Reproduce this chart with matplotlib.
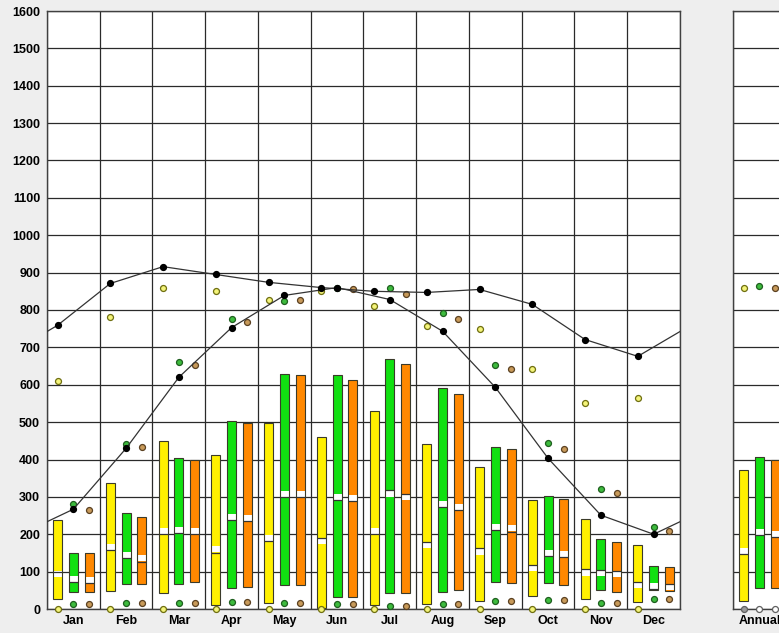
import matplotlib
matplotlib.use('Agg')
import matplotlib.pyplot as plt
import numpy as np

plt.rcParams['font.family'] = ['Liberation Sans', 'DejaVu Sans']
plt.rcParams['font.weight'] = 'bold'

# ---------------- data ----------------
months = ['Jan', 'Feb', 'Mar', 'Apr', 'May', 'Jun', 'Jul', 'Aug', 'Sep', 'Oct', 'Nov', 'Dec']
yticks = list(range(0, 1700, 100))

# upper and lower black curves
upper_line = [759, 871, 916, 895, 874, 860, 850, 847, 855, 815, 721, 676]
lower_line = [267, 430, 620, 753, 839, 860, 828, 743, 593, 403, 251, 200]

# yellow series
yel_low = [26, 49, 42, 12, 15, 2, 12, 14, 22, 36, 27, 18]
yel_high = [238, 336, 450, 411, 498, 459, 529, 442, 379, 291, 242, 171]
yel_med = [93, 166, 208, 160, 190, 182, 208, 171, 153, 110, 97, 64]
yel_mean = [100, 157, 200, 150, 182, 190, 200, 180, 162, 119, 106, 73]
yel_max = [609, 780, 860, 850, 826, 850, 812, 756, 748, 641, 550, 564]
yel_min = [0, 0, 0, 0, 1, 0, 0, 0, 0, 0, 0, 0]

# green series
grn_low = [46, 66, 68, 55, 64, 33, 42, 46, 73, 70, 51, 51]
grn_high = [150, 256, 405, 503, 630, 625, 670, 590, 433, 303, 186, 116]
grn_med = [80, 144, 212, 247, 308, 300, 308, 282, 220, 150, 96, 62]
grn_mean = [71, 136, 204, 238, 300, 291, 318, 273, 211, 141, 104, 54]
grn_max = [280, 441, 662, 777, 823, 858, 858, 793, 652, 444, 321, 219]
grn_min = [13, 16, 16, 19, 16, 13, 8, 13, 21, 24, 16, 27]

# orange series
org_low = [46, 68, 73, 60, 64, 33, 44, 50, 70, 64, 46, 49]
org_high = [150, 247, 398, 498, 625, 614, 656, 574, 427, 294, 180, 113]
org_med = [77, 136, 208, 244, 308, 297, 299, 273, 216, 147, 94, 60]
org_mean = [69, 127, 200, 236, 300, 289, 308, 264, 207, 138, 102, 68]
org_max = [265, 433, 654, 767, 828, 855, 844, 777, 641, 427, 310, 210]
org_min = [13, 16, 16, 19, 16, 13, 8, 13, 21, 24, 16, 27]

# annual (yellow, green, orange)
ann_low = [21, 56, 56]
ann_high = [371, 406, 398]
ann_med = [155, 205, 200]
ann_mean = [147, 197, 192]
ann_max = [860, 863, 858]
ann_min = [0, 0, 0]

# ---------------- style ----------------
W, H = 779, 633
BG = '#EEEEEE'
GRID = '#2a2a2a'
EDGE = '#3a3a2a'
box_colors = ['#FFF000', '#11E011', '#FF8800']
dot_face = ['#F4F47A', '#3DBB3D', '#C89A5A']
dot_edge = ['#6E6E10', '#1E5E1E', '#5A4020']
offsets = [0.2, 0.5, 0.8]
BW = 0.17
BAND = 16

fig = plt.figure(figsize=(W / 100, H / 100), dpi=100, facecolor=BG)
ax = fig.add_axes([47 / W, (H - 609) / H, (680 - 47) / W, (609 - 11) / H])
ax2 = fig.add_axes([733 / W, (H - 609) / H, 52.77 / W, (609 - 11) / H])


def style_axes(a, nx, labels, show_y):
    a.set_facecolor('white')
    a.set_xlim(0, nx)
    a.set_ylim(0, 1600)
    a.set_yticks(yticks)
    a.set_xticks(range(nx + 1))
    a.set_xticklabels([])
    a.set_xticks(np.arange(nx) + 0.5, minor=True)
    a.set_xticklabels(labels, minor=True, fontsize=9, fontweight='bold')
    if show_y:
        a.set_yticklabels([str(v) for v in yticks], fontsize=9, fontweight='bold')
    else:
        a.set_yticklabels([])
    a.tick_params(which='both', length=0)
    a.tick_params(axis='y', pad=5)
    a.tick_params(axis='x', which='minor', pad=4.5)
    a.grid(True, which='major', color=GRID, linewidth=0.9, zorder=0)
    a.set_axisbelow(True)
    for s in a.spines.values():
        s.set_color('#404040')
        s.set_linewidth(1.0)


style_axes(ax, 12, months, True)
style_axes(ax2, 1, ['Annual'], False)

series = [
    (yel_low, yel_high, yel_med, yel_mean, yel_max, yel_min),
    (grn_low, grn_high, grn_med, grn_mean, grn_max, grn_min),
    (org_low, org_high, org_med, org_mean, org_max, org_min),
]

xm = np.arange(12)
for k, (lo, hi, med, mean, mx, mn) in enumerate(series):
    x = xm + offsets[k]
    lo = np.array(lo); hi = np.array(hi); med = np.array(med); mean = np.array(mean)
    ax.bar(x, hi - lo, bottom=lo, width=BW, color=box_colors[k], edgecolor='none', zorder=2)
    ax.bar(x, BAND, bottom=med - BAND / 2, width=BW, color='white', edgecolor='none', zorder=2.5)
    ax.hlines(mean, x - BW / 2, x + BW / 2, color='#333333', linewidth=0.9, zorder=2.6)
    ax.bar(x, hi - lo, bottom=lo, width=BW, fill=False, edgecolor=EDGE, linewidth=0.8, zorder=2.7)
    ax.plot(x, mx, 'o', ms=4.3, mfc=dot_face[k], mec=dot_edge[k], mew=0.9, ls='none', zorder=4, clip_on=False)
    ax.plot(x, mn, 'o', ms=4.3, mfc=dot_face[k], mec=dot_edge[k], mew=0.9, ls='none', zorder=4, clip_on=False)

# periodic black curves
for vals, off in [(upper_line, 0.2), (lower_line, 0.5)]:
    xs = np.concatenate([[off - 1], xm + off, [12 + off]])
    ys = np.concatenate([[vals[-1]], vals, [vals[0]]])
    ax.plot(xs, ys, color='#333333', linewidth=0.9, zorder=5)
    ax.plot(xm + off, vals, 'o', ms=4.2, color='black', ls='none', zorder=6)

# annual panel
for k in range(3):
    x = offsets[k]
    ax2.bar([x], [ann_high[k] - ann_low[k]], bottom=[ann_low[k]], width=BW, color=box_colors[k], edgecolor='none', zorder=2)
    ax2.bar([x], [BAND], bottom=[ann_med[k] - BAND / 2], width=BW, color='white', edgecolor='none', zorder=2.5)
    ax2.hlines([ann_mean[k]], x - BW / 2, x + BW / 2, color='#333333', linewidth=0.9, zorder=2.6)
    ax2.bar([x], [ann_high[k] - ann_low[k]], bottom=[ann_low[k]], width=BW, fill=False, edgecolor=EDGE, linewidth=0.8, zorder=2.7)
    ax2.plot([x], [ann_max[k]], 'o', ms=4.3, mfc=dot_face[k], mec=dot_edge[k], mew=0.9, zorder=4, clip_on=False)
    ax2.plot([x], [ann_min[k]], 'o', ms=4.3, mfc='#9a9a9a' if k == 0 else 'white', mec='#606060', mew=0.9, zorder=4, clip_on=False)

fig.savefig('out.png', dpi=100, facecolor=BG)
